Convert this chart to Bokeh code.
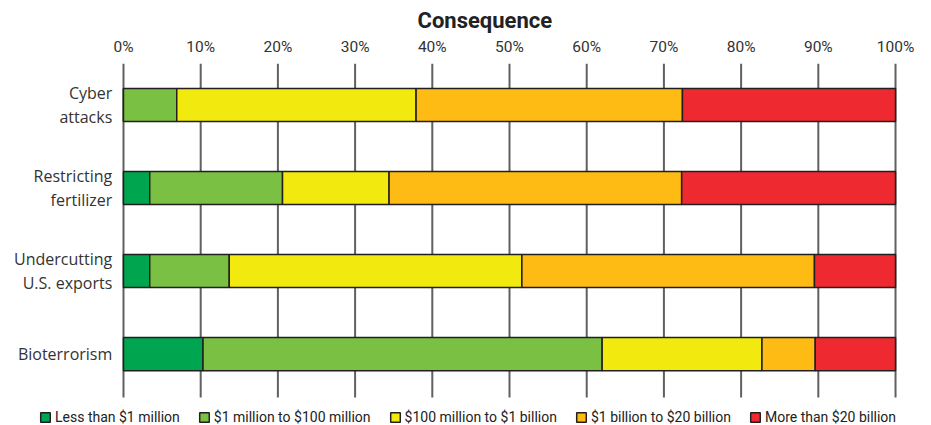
from bokeh.plotting import figure
from bokeh.models import Range1d, Legend, LegendItem, FixedTicker, ColumnDataSource
from bokeh.core.properties import value
from bokeh.embed import file_html
from bokeh.resources import INLINE

# ---- data (percent of respondents) ----
threats = ["Cyber\nattacks", "Restricting\nfertilizer", "Undercutting\nU.S. exports", "Bioterrorism"]
less_1m = [0.0, 3.4, 3.4, 10.3]
m1_100m = [6.9, 17.2, 10.3, 51.7]
m100_1b = [31.0, 13.8, 37.9, 20.7]
b1_20b = [34.5, 37.9, 37.9, 6.9]
more_20b = [27.6, 27.7, 10.5, 10.4]

series = ["less_1m", "m1_100m", "m100_1b", "b1_20b", "more_20b"]
series_labels = ["Less than $1 million", "$1 million to $100 million",
                 "$100 million to $1 billion", "$1 billion to $20 billion",
                 "More than $20 billion"]
colors = ["#00A54F", "#7AC143", "#F2E90E", "#FDBB14", "#EE2A30"]
tick_values = [0, 10, 20, 30, 40, 50, 60, 70, 80, 90, 100]
tick_labels = {v: f"{v}%" for v in tick_values}

# row positions: first threat at the top
ypos = [len(threats) - 1 - i for i in range(len(threats))]

source = ColumnDataSource(dict(threat=threats, ypos=ypos, less_1m=less_1m, m1_100m=m1_100m,
                               m100_1b=m100_1b, b1_20b=b1_20b, more_20b=more_20b))

p = figure(width=931, height=425, output_backend="svg", toolbar_location=None,
           y_range=Range1d(-0.861, 3.5),
           x_range=Range1d(-15.93, 104.66),
           x_axis_location="above", y_axis_location=None,
           min_border_left=0, min_border_right=0, min_border_top=63, min_border_bottom=0)
p.outline_line_color = None
p.background_fill_color = "white"
p.xgrid.visible = False
p.ygrid.visible = False

p.title.text = "Consequence"
p.title.align = "left"
p.title.offset = 417
p.title.text_font = "Roboto"
p.title.text_font_style = "bold"
p.title.text_font_size = "22px"
p.title.text_color = "#222222"
p.title.standoff = 3

# vertical grid lines at the tick values
p.segment(x0=tick_values, x1=tick_values, y0=-0.524, y1=3.5,
          line_color="#606060", line_width=2)

renderers = p.hbar_stack(series, y="ypos", height=0.4, source=source,
                         color=colors, line_color="#231f20", line_width=1.5)

# category labels
p.text(x=-1.45, y="ypos", text="threat", source=source, text_align="right",
       text_baseline="middle", text_font=value("Open Sans"), text_font_size="16px",
       text_color="#333333", text_line_height=1.1)

# top axis
xa = p.xaxis[0]
xa.ticker = FixedTicker(ticks=tick_values)
xa.major_label_overrides = tick_labels
xa.axis_line_color = None
xa.major_tick_line_color = None
xa.minor_tick_line_color = None
xa.major_label_standoff = 2
xa.major_label_text_font = "Roboto"
xa.major_label_text_font_size = "15.5px"
xa.major_label_text_color = "#333333"

legend = Legend(items=[LegendItem(label=l, renderers=[r]) for l, r in zip(series_labels, renderers)],
                orientation="horizontal", location=(39, 0),
                glyph_width=12, glyph_height=12, label_height=14, label_text_font="Roboto",
                label_text_font_size="14px", label_text_color="#222222",
                label_standoff=4, spacing=18, padding=3, margin=0,
                border_line_color=None, background_fill_alpha=0)
p.add_layout(legend, "center")

open("out.html", "w").write(file_html(p, INLINE))
